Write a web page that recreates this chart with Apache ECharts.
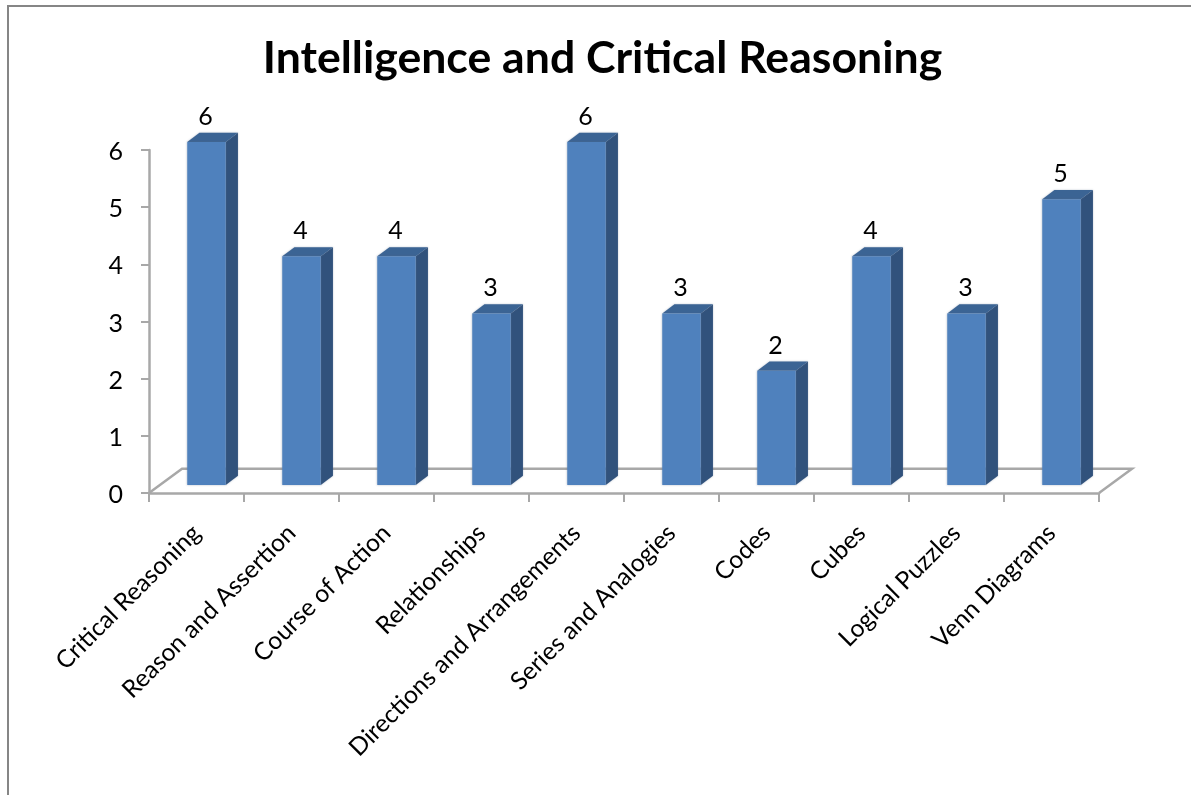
<!DOCTYPE html>
<html><head><meta charset="utf-8">
<style>html,body{margin:0;padding:0;background:#fff}#c{width:1191px;height:795px}</style>
<script src="https://cdn.jsdelivr.net/npm/echarts@6/dist/echarts.min.js"></script>
</head><body><div id="c"></div>
<script>
const categories = ['Critical Reasoning','Reason and Assertion','Course of Action','Relationships','Directions and Arrangements','Series and Analogies','Codes','Cubes','Logical Puzzles','Venn Diagrams'];
const values = [6,4,4,3,6,3,2,4,3,5];
const titleText = 'Intelligence and Critical Reasoning';
const FONT = 'Lato, "Open Sans", sans-serif';
const AXIS = '#a8a8a8';

function pts(a){return {points:a};}
function renderBar(params, api){
  const base = api.coord([api.value(0),0]);
  const top = api.coord([api.value(0),api.value(1)]);
  const cw = api.size([1,0])[0];
  const bw = cw*0.405, ox = 10, oy = -8, dx = 12.2, dy = -9.2;
  const xl = base[0]+ox-bw/2, xr = xl+bw, yb = base[1]+oy, yt = top[1]+oy;
  const soft = {shadowBlur:2, shadowColor:'rgba(90,110,140,0.45)'};
  return {type:'group', children:[
    {type:'polygon', shape:pts([[xr,yb],[xr+dx,yb+dy],[xr+dx,yt+dy],[xr,yt]]), style:{fill:'#31527c',...soft}},
    {type:'polygon', shape:pts([[xl,yt],[xl+dx,yt+dy],[xr+dx,yt+dy],[xr,yt]]), style:{fill:'#3b6494',...soft}},
    {type:'rect', shape:{x:xl,y:yt,width:bw,height:yb-yt}, style:{fill:'#4f81bd',...soft}},
    {type:'text', style:{text:String(api.value(1)), x:base[0]+ox-1, y:yt+dy-16, align:'center', verticalAlign:'middle', font:'25px '+FONT, fill:'#000'}}
  ]};
}
function renderFloor(params, api){
  const a = api.coord([0,0]), cw = api.size([1,0])[0];
  const n = categories.length;
  const x0 = a[0]-cw/2, x1 = x0+cw*n, y = a[1], dx = 33, dy = -24.3;
  return {type:'polyline', shape:pts([[x0,y],[x0+dx,y+dy],[x1+dx,y+dy],[x1,y]]),
    style:{fill:null, stroke:AXIS, lineWidth:2.5}};
}
const chart = echarts.init(document.getElementById('c'), null, {renderer:'canvas'});
chart.setOption({
  animation:false,
  backgroundColor:'#fff',
  title:{text:titleText, left:597.5, top:31, textAlign:'center',
    textStyle:{fontFamily:FONT, fontWeight:'bold', fontSize:44.6, color:'#000'}},
  graphic:[
    {type:'polyline', silent:true, shape:{points:[[8,795],[8,6],[1191,6]]}, style:{fill:null, stroke:'#868686', lineWidth:2}}
  ],
  grid:{left:149, top:150, width:950, height:343, containLabel:false},
  xAxis:{type:'category', data:categories,
    axisLine:{lineStyle:{color:AXIS,width:2.5}},
    axisTick:{show:true, alignWithLabel:false, length:9, lineStyle:{color:AXIS,width:2}},
    axisLabel:{interval:0, rotate:45, margin:36, fontFamily:FONT, fontSize:24.6, color:'#000', hideOverlap:false}},
  yAxis:{type:'value', min:0, max:6, interval:1, splitLine:{show:false},
    axisLine:{show:true, lineStyle:{color:AXIS,width:2.5}},
    axisTick:{show:true, length:8, lineStyle:{color:AXIS,width:2}},
    axisLabel:{margin:26, verticalAlign:'top', lineHeight:4, fontFamily:FONT, fontSize:25, color:'#000'}},
  series:[
    {type:'custom', z:1, renderItem:renderFloor, data:[[0,0]], encode:{x:0,y:1}, silent:true},
    {type:'custom', z:3, renderItem:renderBar, data:values.map((v,i)=>[i,v]), encode:{x:0,y:1}, silent:true}
  ]
});
</script></body></html>
